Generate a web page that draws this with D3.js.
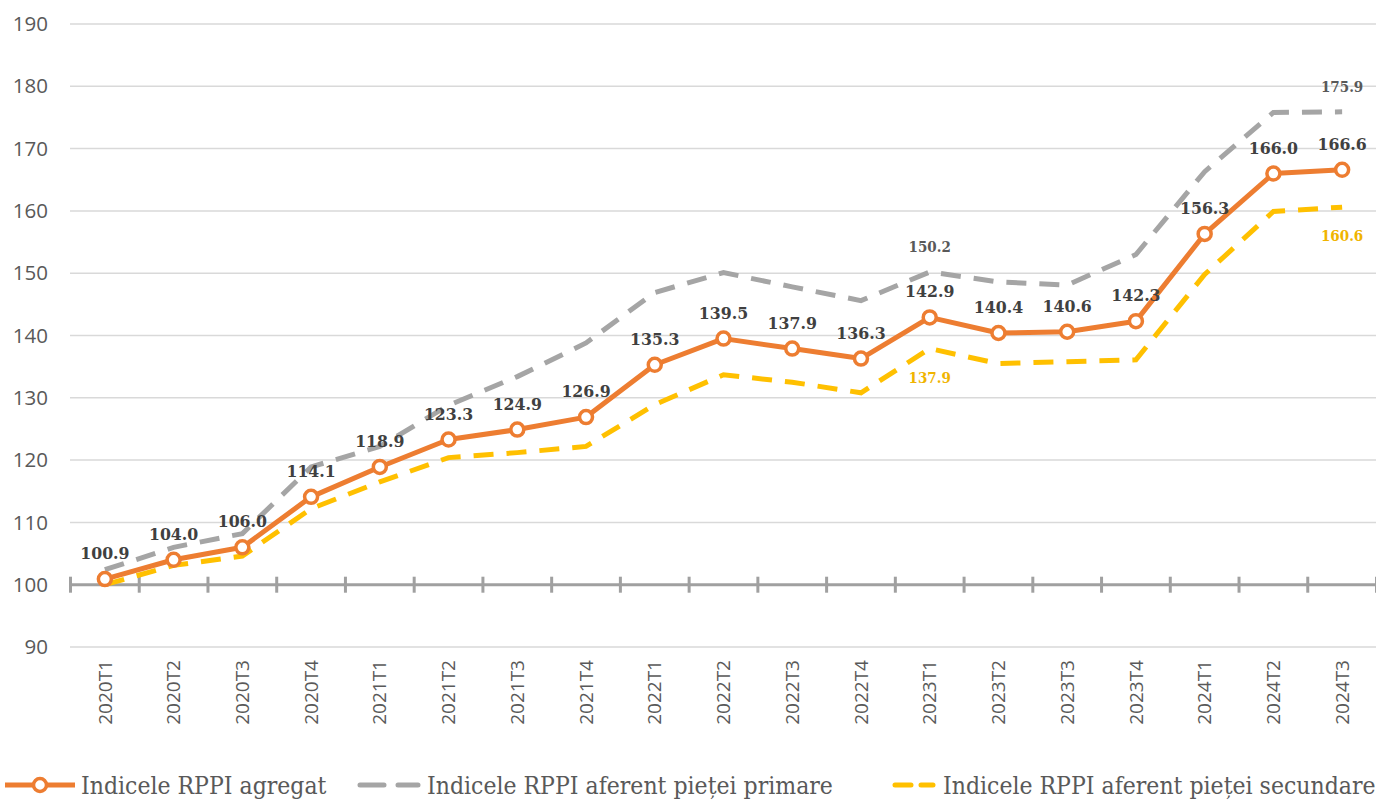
<!DOCTYPE html>
<html>
<head>
<meta charset="utf-8">
<script src="https://cdn.jsdelivr.net/npm/d3@7"></script>
<style>
  body { margin: 0; background: #fff; }
  svg { display: block; }
</style>
</head>
<body>
<svg id="chart" width="1376" height="800"></svg>
<script>
var quarters = ["2020T1","2020T2","2020T3","2020T4","2021T1","2021T2","2021T3","2021T4",
	"2022T1","2022T2","2022T3","2022T4","2023T1","2023T2","2023T3","2023T4","2024T1","2024T2","2024T3"];
var agregat = [100.9,104.0,106.0,114.1,118.9,123.3,124.9,126.9,135.3,139.5,137.9,136.3,142.9,140.4,140.6,142.3,156.3,166.0,166.6];
var primara = [102.4,106.0,108.2,118.9,122.2,128.8,133.4,138.8,146.9,150.1,147.8,145.6,150.2,148.6,148.1,153.0,166.3,175.8,175.9];
var secundara = [100.0,103.1,104.6,112.2,116.5,120.4,121.2,122.2,128.9,133.7,132.5,130.8,137.9,135.5,135.8,136.1,149.8,159.9,160.6];
var yTicks = [90,100,110,120,130,140,150,160,170,180,190];

var ORANGE = "#ED7D31", GRAY = "#A5A5A5", YELLOW = "#FFC000", TEXT = "#595959";

var svg = d3.select("#chart");

var x = d3.scaleBand().domain(quarters).range([70.5, 1376.5]);
var y = d3.scaleLinear().domain([90, 190]).range([647, 24]);
var cx = function(d, i) { return x(quarters[i]) + x.bandwidth() / 2; };

// gridlines
svg.append("g").selectAll("line.grid")
	.data(yTicks.filter(function(d) { return d !== 100; }))
	.enter().append("line")
	.attr("x1", 70).attr("x2", 1376)
	.attr("y1", function(d) { return y(d); })
	.attr("y2", function(d) { return y(d); })
	.attr("stroke", "#d9d9d9")
	.attr("stroke-width", 1.5);

// y labels
svg.append("g").selectAll("text")
	.data(yTicks).enter().append("text")
	.attr("x", 48)
	.attr("y", function(d) { return y(d); })
	.attr("dy", "0.35em")
	.attr("text-anchor", "end")
	.attr("font-family", "Open Sans")
	.attr("font-size", 20.5)
	.attr("fill", TEXT)
	.text(function(d) { return d; });

// category axis at 100
var axisY = y(100);
svg.append("line")
	.attr("x1", 70).attr("x2", 1376)
	.attr("y1", axisY).attr("y2", axisY)
	.attr("stroke", "#a0a0a0").attr("stroke-width", 3);

var boundaries = quarters.map(function(q) { return x(q); }).concat([x.range()[1]]);
svg.append("g").selectAll("line")
	.data(boundaries).enter().append("line")
	.attr("x1", function(d) { return d; }).attr("x2", function(d) { return d; })
	.attr("y1", axisY - 8).attr("y2", axisY + 8)
	.attr("stroke", "#a0a0a0").attr("stroke-width", 3);

// x labels
svg.append("g").selectAll("text")
	.data(quarters).enter().append("text")
	.attr("transform", function(d) {
		return "translate(" + (x(d) + x.bandwidth() / 2) + ",660) rotate(-90)";
	})
	.attr("dy", "0.35em")
	.attr("text-anchor", "end")
	.attr("font-family", "Open Sans")
	.attr("font-size", 19)
	.attr("fill", TEXT)
	.text(function(d) { return d; });

var line = d3.line()
	.x(cx)
	.y(function(d) { return y(d); });

svg.append("path").datum(primara)
	.attr("d", line)
	.attr("fill", "none")
	.attr("stroke", GRAY)
	.attr("stroke-width", 5)
	.attr("stroke-dasharray", "20,13");

svg.append("path").datum(secundara)
	.attr("d", line)
	.attr("fill", "none")
	.attr("stroke", YELLOW)
	.attr("stroke-width", 5)
	.attr("stroke-dasharray", "20,13");

svg.append("path").datum(agregat)
	.attr("d", line)
	.attr("fill", "none")
	.attr("stroke", ORANGE)
	.attr("stroke-width", 5)
	.attr("stroke-linejoin", "round");

svg.append("g").selectAll("circle")
	.data(agregat).enter().append("circle")
	.attr("cx", cx)
	.attr("cy", function(d) { return y(d); })
	.attr("r", 6.5)
	.attr("fill", "#fff")
	.attr("stroke", ORANGE)
	.attr("stroke-width", 3.5);

// data labels
var labelFont = "DejaVu Serif Condensed, DejaVu Serif";
svg.append("g").selectAll("text")
	.data(agregat).enter().append("text")
	.attr("x", cx)
	.attr("y", function(d) { return y(d) - 20; })
	.attr("text-anchor", "middle")
	.attr("font-family", labelFont)
	.attr("font-weight", "bold")
	.attr("font-size", 17.5)
	.attr("fill", "#404040")
	.text(function(d) { return d.toFixed(1); });

var lastI = quarters.length - 1, midI = 12;
[midI, lastI].forEach(function(i) {
	svg.append("text")
		.attr("x", cx(null, i))
		.attr("y", y(primara[i]) - 20)
		.attr("text-anchor", "middle")
		.attr("font-family", labelFont)
		.attr("font-weight", "bold")
		.attr("font-size", 15)
		.attr("fill", TEXT)
		.text(primara[i].toFixed(1));
	svg.append("text")
		.attr("x", cx(null, i))
		.attr("y", y(secundara[i]) + 34)
		.attr("text-anchor", "middle")
		.attr("font-family", labelFont)
		.attr("font-weight", "bold")
		.attr("font-size", 15)
		.attr("fill", "#F0B400")
		.text(secundara[i].toFixed(1));
});

// legend
var legend = svg.append("g").attr("transform", "translate(0,785)");
var items = [
	{ label: "Indicele RPPI agregat", color: ORANGE, x: 5, w: 70, tx: 76, dash: null },
	{ label: "Indicele RPPI aferent pieței primare", color: GRAY, x: 358, w: 62, tx: 69, dash: "24,14" },
	{ label: "Indicele RPPI aferent pieței secundare", color: YELLOW, x: 893, w: 42, tx: 50, dash: "16,10" }
];
items.forEach(function(it) {
	var g = legend.append("g").attr("transform", "translate(" + it.x + ",0)");
	if (it.dash) {
		g.append("line").attr("x1", 2).attr("x2", it.w - 2).attr("y1", 0).attr("y2", 0)
			.attr("stroke", it.color).attr("stroke-width", 5)
			.attr("stroke-linecap", "round")
			.attr("stroke-dasharray", it.dash);
	} else {
		g.append("line").attr("x1", 0).attr("x2", it.w).attr("y1", 0).attr("y2", 0)
			.attr("stroke", it.color).attr("stroke-width", 5);
		g.append("circle").attr("cx", 35).attr("cy", 0).attr("r", 6.5)
			.attr("fill", "#fff").attr("stroke", it.color).attr("stroke-width", 3.5);
	}
	g.append("text")
		.attr("x", it.tx)
		.attr("y", 0)
		.attr("dy", "0.35em")
		.attr("font-family", labelFont)
		.attr("font-size", 24.5)
		.attr("fill", TEXT)
		.text(it.label);
});
</script>
</body>
</html>
